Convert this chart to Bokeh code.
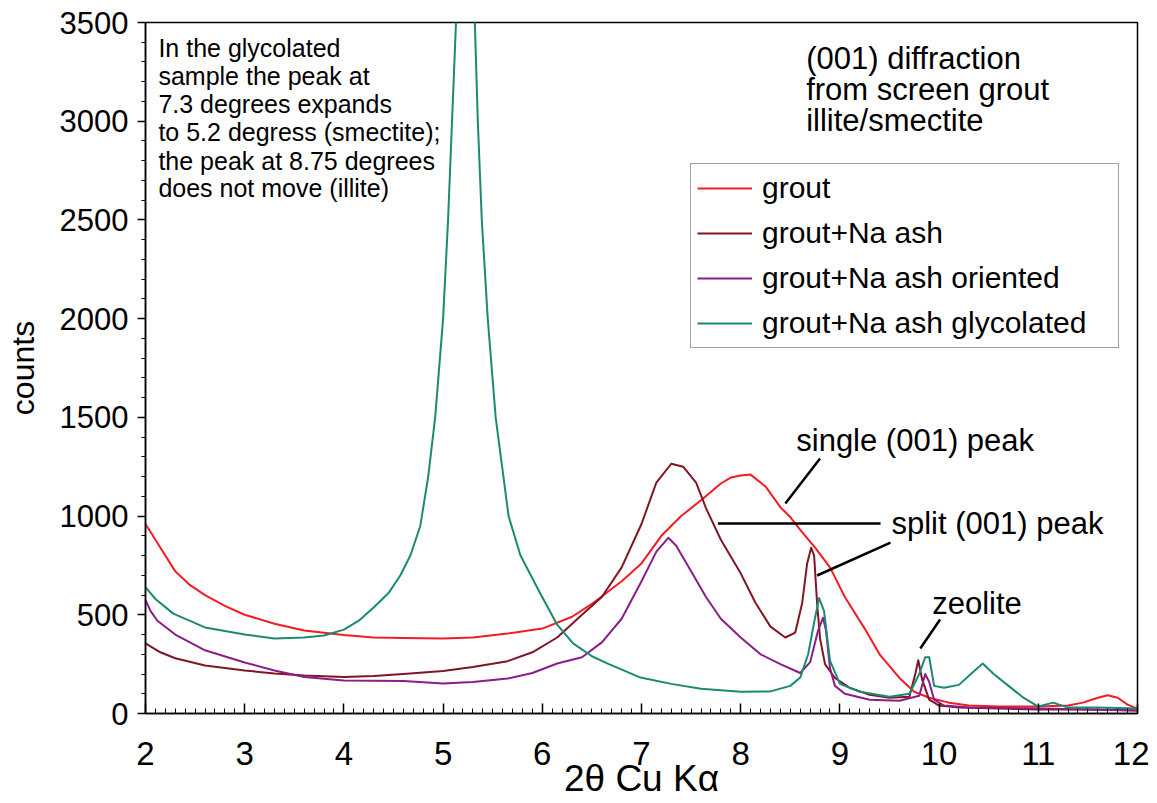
from bokeh.plotting import figure
from bokeh.models import Range1d, SingleIntervalTicker, Legend, LegendItem, Label
from bokeh.embed import file_html
from bokeh.resources import INLINE

# ---------------- data ----------------
grout_x = [2.0, 2.1, 2.2, 2.3, 2.45, 2.6, 2.8, 3.0, 3.3, 3.6, 4.0, 4.3, 4.6, 5.0, 5.3, 5.65,
           6.0, 6.3, 6.5, 6.8, 7.0, 7.2, 7.4, 7.6, 7.8, 7.9, 8.0, 8.1, 8.25, 8.4, 8.5, 8.6, 8.75,
           8.9, 9.05, 9.25, 9.4, 9.6, 9.75, 9.9, 10.1, 10.3, 10.6, 11.0, 11.3, 11.45, 11.6,
           11.7, 11.8, 11.9, 12.0]
grout_y = [960, 880, 800, 720, 650, 600, 545, 500, 455, 420, 398, 385, 382, 380, 385, 405,
           430, 490, 555, 670, 760, 900, 1000, 1080, 1165, 1195, 1205, 1210, 1150, 1045, 995, 930, 840,
           740, 590, 430, 300, 180, 110, 80, 55, 40, 35, 35, 40, 55, 80,
           92, 80, 45, 25]

ash_x = [2.0, 2.15, 2.3, 2.6, 3.0, 3.3, 3.6, 4.0, 4.3, 4.6, 5.0, 5.3, 5.65, 5.9, 6.15, 6.4,
         6.6, 6.8, 7.0, 7.15, 7.3, 7.42, 7.55, 7.65, 7.8, 8.0, 8.15, 8.3, 8.45, 8.55, 8.62,
         8.67, 8.71, 8.74, 8.77, 8.8, 8.85, 8.95, 9.1, 9.3, 9.5, 9.7, 9.76, 9.79, 9.83, 9.9,
         10.0, 10.2, 10.6, 11.0, 11.5, 12.0]
ash_y = [355, 310, 280, 243, 218, 203, 193, 185, 190, 200, 215, 235, 265, 310, 385, 500,
         590, 740, 960, 1170, 1265, 1250, 1170, 1040, 880, 710, 560, 440, 385, 410, 560,
         760, 840, 800, 560, 380, 250, 180, 130, 95, 80, 85, 200, 270, 170, 70,
         40, 30, 25, 20, 20, 15]

oriented_x = [2.0, 2.05, 2.12, 2.3, 2.6, 3.0, 3.3, 3.6, 4.0, 4.6, 5.0, 5.3, 5.65, 5.9, 6.15,
              6.4, 6.6, 6.8, 7.0, 7.15, 7.27, 7.35, 7.5, 7.65, 7.8, 8.0, 8.2, 8.4, 8.6, 8.7,
              8.78, 8.83, 8.86, 8.9, 8.95, 9.05, 9.3, 9.6, 9.8, 9.86, 9.9, 9.95, 10.05, 10.3,
              11.0, 12.0]
oriented_y = [575, 520, 470, 400, 320, 258, 218, 185, 167, 165, 152, 160, 177, 205, 253,
              285, 360, 480, 670, 820, 890, 850, 720, 590, 480, 385, 300, 250, 205, 260,
              420, 485, 420, 230, 140, 100, 70, 65, 90, 200, 160, 70, 40, 30,
              25, 15]

glyc_x = [2.0, 2.1, 2.28, 2.6, 3.0, 3.3, 3.6, 3.8, 4.0, 4.15, 4.3, 4.45, 4.57, 4.67, 4.77,
          4.85, 4.92, 5.0, 5.05, 5.09, 5.13, 5.22, 5.32, 5.35, 5.39, 5.45, 5.53, 5.66, 5.78,
          5.98, 6.15, 6.31, 6.5, 6.66, 6.99, 7.3, 7.6, 8.0, 8.3, 8.5, 8.6, 8.68, 8.74, 8.79,
          8.84, 8.9, 9.0, 9.2, 9.5, 9.7, 9.8, 9.86, 9.9, 9.95, 10.05, 10.2, 10.32, 10.44,
          10.55, 10.7, 10.85, 11.0, 11.15, 11.3, 11.6, 12.0]
glyc_y = [640, 580, 506, 436, 400, 380, 385, 395, 425, 470, 537, 610, 700, 800, 950,
          1200, 1500, 2000, 2500, 3000, 3500, 4600, 3500, 3000, 2500, 2000, 1500, 1000, 800,
          608, 450, 355, 290, 253, 182, 150, 125, 110, 112, 140, 182, 300, 460, 585,
          520, 268, 150, 110, 85, 100, 200, 285, 285, 140, 130, 145, 200, 253,
          200, 140, 80, 35, 55, 30, 30, 25]

series_names = ["grout", "grout+Na ash", "grout+Na ash oriented", "grout+Na ash glycolated"]
series_colors = ["#f41c22", "#801624", "#8a1c8c", "#1a8a72"]

x_axis_label = "2\u03b8 Cu K\u03b1"
y_axis_label = "counts"

note_lines = ["In the glycolated", "sample the peak at", "7.3 degrees expands",
              "to 5.2 degress (smectite);", "the peak at 8.75 degrees", "does not move (illite)"]
title_lines = ["(001) diffraction", "from screen grout", "illite/smectite"]

# annotation pointer segments (data coordinates)
ptr_x0 = [8.45, 7.77, 8.77, 9.81]
ptr_y0 = [1064, 963, 699, 329]
ptr_x1 = [8.80, 9.41, 9.51, 10.01]
ptr_y1 = [1292, 963, 866, 476]

# ---------------- figure ----------------
FONT = "Liberation Sans"

p = figure(output_backend="svg", toolbar_location=None,
           frame_width=992, frame_height=691,
           min_border_left=145, min_border_right=12, min_border_top=22, min_border_bottom=82,
           x_range=Range1d(2, 12), y_range=Range1d(0, 3500),
           background_fill_color="white", border_fill_color="white")
p.grid.visible = False
p.outline_line_color = "black"
p.outline_line_width = 1.5

xa = p.xaxis[0]
xa.ticker = SingleIntervalTicker(interval=1, num_minor_ticks=10)
xa.axis_line_width = 1.5
xa.major_tick_in = 10
xa.major_tick_out = 0
xa.minor_tick_in = 5
xa.minor_tick_out = 0
xa.major_tick_line_width = 1.5
xa.major_label_text_font = FONT
xa.major_label_text_font_size = "33px"
xa.major_label_text_color = "black"
xa.major_label_standoff = 28
xa.axis_label = x_axis_label
xa.axis_label_text_font = FONT
xa.axis_label_text_font_size = "37px"
xa.axis_label_text_font_style = "normal"
xa.axis_label_text_color = "black"
xa.axis_label_standoff = -10

ya = p.yaxis[0]
ya.ticker = SingleIntervalTicker(interval=500, num_minor_ticks=5)
ya.axis_line_width = 1.5
ya.major_tick_in = 0
ya.major_tick_out = 8
ya.minor_tick_in = 0
ya.minor_tick_out = 4
ya.major_tick_line_width = 1.5
ya.major_label_text_font = FONT
ya.major_label_text_font_size = "31px"
ya.major_label_text_color = "black"
ya.major_label_standoff = 9
ya.axis_label = y_axis_label
ya.axis_label_text_font = FONT
ya.axis_label_text_font_size = "32px"
ya.axis_label_text_font_style = "normal"
ya.axis_label_text_color = "black"
ya.axis_label_standoff = 16

xs = [grout_x, ash_x, oriented_x, glyc_x]
ys = [grout_y, ash_y, oriented_y, glyc_y]
renderers = []
for xx, yy, c in zip(xs, ys, series_colors):
    r = p.line(xx, yy, line_color=c, line_width=2, line_join="round")
    renderers.append(r)

legend = Legend(items=[LegendItem(label=n, renderers=[r]) for n, r in zip(series_names, renderers)],
                location=(545, 365), orientation="vertical",
                label_text_font=FONT, label_text_font_size="30px", label_text_color="black",
                label_height=36, glyph_height=36, glyph_width=55, label_standoff=10,
                label_width=350, spacing=9, padding=6, margin=0,
                border_line_color="#444444", border_line_width=1,
                background_fill_color="white", background_fill_alpha=1.0)
p.add_layout(legend)

# pointer lines
p.segment(x0=ptr_x0, y0=ptr_y0, x1=ptr_x1, y1=ptr_y1, line_color="black", line_width=2.5)

# note text (top left)
note_y = [3369, 3227, 3085, 2943, 2801, 2660]
for t, yy in zip(note_lines, note_y):
    p.add_layout(Label(x=2.13, y=yy, text=t, text_font=FONT, text_font_size="25px",
                       text_baseline="middle", text_align="left", text_color="black"))

title_y = [3318, 3161, 3004]
for t, yy in zip(title_lines, title_y):
    p.add_layout(Label(x=8.66, y=yy, text=t, text_font=FONT, text_font_size="31px",
                       text_baseline="middle", text_align="left", text_color="black"))

for t, xx, yy in [("single (001) peak", 8.56, 1383), ("split (001) peak", 9.52, 963),
                  ("zeolite", 9.93, 557)]:
    p.add_layout(Label(x=xx, y=yy, text=t, text_font=FONT, text_font_size="31px",
                       text_baseline="middle", text_align="left", text_color="black"))

open("out.html", "w").write(file_html(p, INLINE))
